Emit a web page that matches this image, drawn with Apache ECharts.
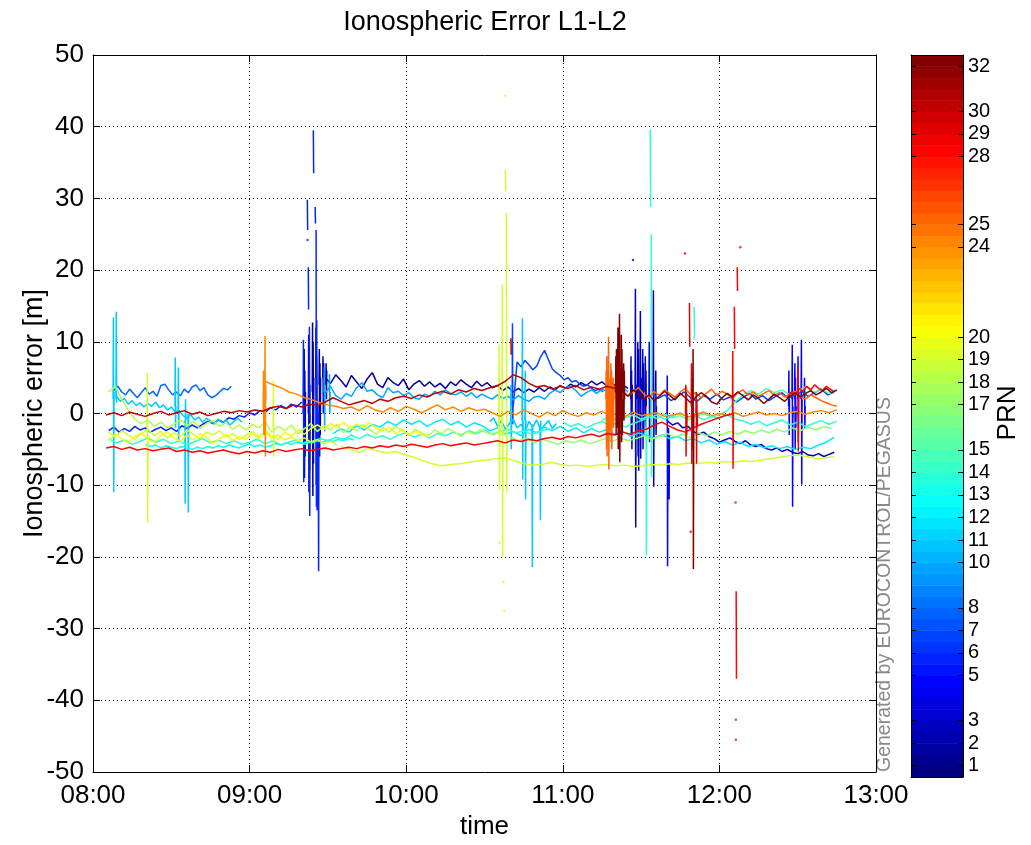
<!DOCTYPE html>
<html><head><meta charset="utf-8">
<script src="https://cdn.jsdelivr.net/npm/echarts@6/dist/echarts.min.js"></script>
<style>html,body{margin:0;padding:0;background:#fff}#c{width:1031px;height:845px}</style>
</head><body><div id="c"></div>
<script>
// ================= DATA =================
const hourLabels = ['08:00','09:00','10:00','11:00','12:00','13:00'];
const prnTicks = [1,2,3,5,6,7,8,10,11,12,13,14,15,17,18,19,20,24,25,28,29,30,32];

// track table: [name, PRN, start (minutes after 08:00), sample step (minutes)]
const trackInfo = [
  ['P02a', 2, 89, 2],
  ['P03a', 3, 220, 2],
  ['P06a', 6, 6, 2],
  ['P07a', 7, 161, 1.5],
  ['P07b', 7, 214, 2.5],
  ['P08a', 8, 8, 1.5],
  ['P10a', 10, 89, 2],
  ['P11a', 11, 9, 1.5],
  ['P11b', 11, 152, 1.5],
  ['P12a', 12, 92, 3],
  ['P13a', 13, 20, 2],
  ['P14a', 14, 6, 3],
  ['P14b', 14, 180, 3],
  ['P15a', 15, 195, 3],
  ['P17a', 17, 160, 3],
  ['P18a', 18, 6, 2.5],
  ['P19a', 19, 6, 2.5],
  ['P19b', 19, 95, 3.5],
  ['P20a', 20, 6, 2.5],
  ['P24a', 24, 66, 3],
  ['P25a', 25, 199, 2],
  ['P28a', 28, 5, 3],
  ['P28b', 28, 266, 1.5],
  ['P30a', 30, 5, 3],
  ['P32a', 32, 203, 2]
];

// ionospheric error samples [m]
const P02a = [5.0,4.2,5.4,4.6,3.7,5.3,4.4,3.5,4.8,5.7,4.1,3.6,5.0,4.3,3.9,4.8,3.3,4.1,4.6,3.8,4.4,3.7,4.2,3.5,4.4,3.9,4.7,4.1,3.6,4.5,3.8,4.3,3.6,3.9,3.2,3.7,3.0,3.5,2.9,3.4,3.0,3.6,3.1,3.7,3.3,3.9,3.5,4.1,3.7,4.3,3.9,4.5,4.0,4.4,3.8,4.2,3.6,4.0,3.5];
const P03a = [-1.0,-1.6,-1.3,-2.0,-1.8,-2.5,-2.9,-2.6,-3.2,-3.5,-4.0,-3.7,-3.4,-3.9,-4.2,-3.8,-4.4,-4.6,-4.3,-4.9,-5.1,-4.8,-5.3,-5.0,-5.4,-5.6,-5.3,-5.8,-5.9,-5.6,-6.0,-5.7,-5.4];
const P06a = [-2.4,-1.9,-2.6,-2.1,-2.5,-1.8,-2.3,-2.0,-2.6,-2.2,-1.9,-2.4,-2.0,-2.5,-1.7,-2.1,-1.6,-2.0,-1.5,-1.1,-1.4,-0.9,-1.2,-0.6,-0.8,-0.3,-0.5,0.1,-0.2,0.4,0.2,0.8,0.5,1.1,0.7,1.3,0.9,1.6];
const P07a = [1.0,7.2,6.5,7.4,6.8,6.1,6.6,7.9,8.8,7.5,6.2,5.7,5.3,4.7,5.0,4.4,4.6,4.1,3.8,4.0,3.5,3.2,3.4,3.0];
const P07b = [2.8,2.1,2.6,1.8,2.4,3.0,2.2,1.7,2.5,2.0,2.7,1.9,2.3,1.6,2.2,2.8,2.0,2.5,1.8,2.4,2.9,2.1,2.6,3.1,2.4,2.9,3.4,2.6,3.0];
const P08a = [3.2,3.8,3.0,2.6,3.4,2.8,2.2,2.9,3.6,2.7,3.1,2.4,3.9,4.1,3.3,2.6,3.0,2.5,3.4,2.9,3.7,4.0,3.2,3.6,2.6,2.2,2.5,3.0,3.5,3.3,3.8];
const P10a = [2.9,3.8,2.5,2.0,2.8,2.4,3.6,4.3,3.1,3.3,2.6,2.2,3.6,2.9,3.1,2.5,2.9,2.2,2.0,2.7,2.4,3.1,2.6,3.3,2.8,2.6,3.0,2.4,2.9,2.2,2.7,2.3,2.0,2.6,2.1,2.4,1.9,2.5,2.0,1.7,2.3,2.4,2.0,2.8,3.3,2.9,3.6,3.8,3.2,2.4,2.9,3.3,2.8,3.4,3.1,3.8,3.3,3.6,3.0];
const P11a = [2.4,1.7,2.1,1.3,1.8,1.1,1.5,0.9,1.4,1.0,1.6,0.8,1.2,0.5,0.9,0.2,0.4,-0.3,-0.6,-0.2,-0.9,-0.5,-1.2,-0.7,-1.0,-1.5,-0.8,-1.3,-0.9,-1.6,-1.1,-0.7,-1.2];
const P11b = [-1.2,-0.6,-1.8,-1.0,-2.2,-1.4,-0.8,-2.0,-1.5,-2.6,-1.1,-1.9,-0.9,-2.3,-1.6,-1.0,-2.1,-1.4];
const P12a = [-2.8,-2.1,-2.6,-1.7,-2.3,-1.5,-1.9,-1.1,-1.7,-0.9,-1.5,-1.0,-1.8,-1.2,-0.8,-1.6,-1.1,-1.9,-1.3,-1.7,-2.4,-2.0,-2.9,-2.5,-3.1,-2.2,-2.7,-1.9,-2.4,-1.8,-2.5,-2.0,-2.7,-2.1,-2.6,-2.2,-2.9,-2.5,-3.2,-2.7,-3.0,-3.4,-3.0,-3.5,-3.2,-3.8,-3.5,-4.1,-3.7,-4.3,-3.9,-4.4,-4.0,-4.6,-4.3,-4.8,-4.5,-4.9,-4.6,-5.0,-4.7,-4.9,-4.4,-4.0,-3.3];
const P13a = [-4.3,-4.6,-4.4,-4.8,-4.5,-4.7,-4.9,-4.6,-4.8,-5.0,-4.7,-4.9,-4.6,-4.8,-4.5,-4.7,-4.4,-4.6,-4.8,-4.5,-4.3,-4.6,-4.4,-4.7,-4.5,-4.2,-4.4,-4.1,-4.3,-4.0,-4.2,-3.9,-4.1,-3.8,-4.0,-3.7,-3.9,-3.6,-3.8,-3.5,-3.7];
const P14a = [-3.5,-4.1,-3.7,-4.3,-3.9,-3.4,-4.0,-3.6,-4.2,-3.8,-4.4,-3.9,-3.5,-4.1,-3.7,-4.2,-3.8,-4.3,-4.0,-3.6,-4.2,-3.8,-4.4,-4.0,-3.7,-4.3,-3.9,-3.5,-3.8,-3.3,-3.6,-3.0,-3.5,-2.9,-3.4,-3.1,-3.6,-3.0,-2.7,-3.3,-2.9,-3.4,-2.8,-3.1,-2.6,-3.0,-2.4,-2.8,-2.3,-2.9,-2.5,-2.2,-2.7,-2.4,-2.9,-2.5,-2.2];
const P14b = [-1.2,-1.8,-1.4,-2.0,-1.5,-1.1,-1.7,-1.3,-1.9,-1.4,-1.0,-0.6,-0.2,-0.8,-0.4,0.1,-0.5,-0.3,-0.9,-0.4,-0.7,-0.2,-0.8,-1.0,-1.5,-1.1,-1.7,-1.3,-0.9,-1.6,-1.2,-1.8,-1.4,-1.0,-1.5,-1.1];
const P15a = [-0.9,-0.4,-1.0,-0.6,-0.2,-0.8,-0.3,-0.7,-0.1,-0.6,-0.3,-0.9,-0.4,0.0,-0.5,-0.2,0.4,1.6,2.6,3.2,2.7,3.5,2.9,3.3,2.6,3.1,3.7,2.9,3.4,2.8,3.2];
const P17a = [-3.3,-3.8,-3.5,-4.1,-3.6,-3.9,-4.3,-3.8,-4.1,-3.7,-4.2,-3.9,-3.5,-3.9,-3.4,-3.8,-3.5,-3.1,-3.6,-3.2,-2.8,-3.3,-2.9,-3.4,-2.7,-3.1,-2.6,-3.0,-2.5,-2.9,-2.4,-2.8,-2.3,-2.7,-2.2,-2.6,-2.0,-2.4,-1.9,-2.3,-1.8,-2.1];
const P18a = [3.0,3.8,2.0,0.5,-0.8,-1.4,-0.9,-1.8,-1.2,-2.0,-1.5,-0.9,-1.7,-1.1,-2.1,-1.4,-1.0,-1.8,-1.3,-2.2,-1.6,-2.3,-1.5,-2.0,-1.2,-2.6,-1.8,-2.4,-1.6,-2.8,-2.1,-1.4,-2.5,-1.7,-2.3,-1.5,-2.7,-1.9,-2.4,-1.6,-2.2,-2.9,-2.0,-2.6,-1.8,-2.4,-3.0,-2.2,-2.7,-3.1,-2.3,-2.8,-2.1,-2.6,-3.2,-2.5,-2.9,-2.2,-2.7,-3.0,-2.4,-2.8];
const P19a = [-2.6,-3.3,-2.4,-3.0,-3.6,-2.8,-2.2,-3.1,-2.5,-3.4,-2.7,-3.2,-2.3,-2.9,-3.5,-2.6,-3.0,-2.4,-3.3,-2.8,-3.6,-3.1,-2.5,-3.2,-2.7,-3.4,-3.0,-3.7,-3.3,-3.8,-3.4,-4.0,-3.6,-4.2,-3.9,-4.4];
const P19b = [-4.6,-5.0,-5.4,-4.9,-5.2,-5.5,-5.3,-5.8,-6.1,-6.6,-7.0,-7.3,-7.1,-7.0,-6.8,-6.6,-6.5,-6.3,-6.2,-6.6,-7.0,-7.2,-7.1,-6.8,-7.1,-7.3,-7.2,-7.4,-7.2,-7.1,-7.3,-7.2,-7.4,-7.3,-7.1,-7.2,-7.0,-7.1,-6.9,-7.0,-6.8,-6.9,-6.7,-6.8,-6.6,-6.7,-6.5,-6.3,-6.1,-5.9,-5.8,-6.0,-6.3,-6.2,-6.0];
const P20a = [-3.8,-2.9,-3.5,-4.1,-3.2,-2.7,-3.6,-4.0,-3.1,-2.6,-3.4,-3.9,-3.0,-3.7,-2.8,-3.3,-4.2,-3.5,-2.9,-3.8,-3.2,-3.6,-2.8,-3.5,-2.4,-3.1,-3.7,-2.6,-3.2,-2.3,-2.9,-2.1,-1.6,-2.2,-1.4,-1.9,-1.2,-2.0,-1.5,-1.8,-1.3,-2.1,-2.4,-1.9,-2.8,-2.2,-3.0,-2.5,-2.9,-3.2];
const P24a = [4.5,4.0,3.6,3.0,2.7,2.2,1.9,1.5,1.2,1.0,0.7,0.9,0.4,1.1,0.5,0.2,0.8,0.3,1.0,0.6,0.1,0.7,1.2,0.5,0.9,0.3,0.8,0.4,0.6,0.1,-0.4,0.3,-0.2,0.5,0.0,-0.5,0.2,-0.3,0.4,-0.1,-0.4,0.1,-0.2,0.3,-0.3,0.0,-0.4,0.2,-0.3,-0.1,0.1,-0.4,-0.2,0.0,-0.5,-0.1,0.2,-0.3,0.0,-0.2,0.1,-0.4,-0.1,0.2,-0.2,0.0,-0.3,0.1,0.3,-0.1,0.2,0.4,0.1,0.5];
const P25a = [3.5,2.6,3.2,2.4,3.0,3.6,2.7,2.2,3.1,2.5,3.3,2.8,2.3,3.0,3.5,2.6,2.9,2.2,2.8,3.4,2.5,3.1,2.7,2.1,2.9,3.3,2.6,3.0,2.4,2.8,3.2,2.5,2.9,2.3,2.7,3.1,2.4,2.0,2.6,2.2,1.8,1.5,1.2,1.0];
const P28a = [-4.8,-4.6,-5.0,-4.7,-5.1,-4.9,-5.2,-5.0,-4.8,-5.3,-5.1,-5.4,-5.2,-5.5,-5.3,-5.1,-5.4,-5.6,-5.3,-5.5,-5.2,-5.4,-5.0,-5.3,-5.1,-4.9,-5.2,-5.0,-4.8,-5.1,-4.9,-4.7,-4.9,-4.6,-4.8,-4.5,-4.7,-4.4,-4.6,-4.3,-4.5,-4.7,-4.4,-4.2,-4.5,-4.3,-4.1,-4.4,-4.2,-4.0,-3.8,-4.1,-3.7,-3.9,-3.6,-3.8,-3.5,-3.3,-3.6,-3.2,-3.4,-3.1,-2.9,-3.2,-2.8,-3.0,-2.6,-2.9,-2.4,-2.2,-1.6,-1.2,-1.8,-2.3,-2.6,-2.0,-1.5,-1.1,-0.7,-0.3,-0.1];
const P28b = [2.2,3.0,2.6,3.5,3.1,3.8,3.3,4.0,3.5,3.2,3.8,3.4,3.0];
const P30a = [-0.2,0.1,-0.3,0.2,-0.1,-0.4,0.0,0.3,-0.2,0.1,0.4,-0.1,0.2,-0.3,0.0,0.3,0.1,0.4,0.2,0.5,0.3,0.8,1.0,0.7,1.2,0.9,1.3,1.1,1.6,2.2,1.7,1.2,1.5,1.8,1.4,2.0,1.7,2.2,2.4,2.1,2.6,2.3,2.8,3.1,2.7,3.3,3.0,3.5,3.2,3.6,3.9,4.5,5.4,5.0,4.2,3.7,3.9,3.4,3.8,3.5,3.9,3.3,3.7,3.4,3.8,3.5];
const P32a = [3.0,2.4,3.3,2.7,2.0,2.6,1.8,2.4,3.1,2.5,1.9,2.8,2.2,1.5,2.3,2.9,2.4,1.6,1.3,2.2,2.8,2.3,3.0,2.5,1.9,2.6,2.1,1.4,2.0,2.7,2.2,1.7,2.4,2.9,2.3,2.8,3.2,2.6,3.0,3.5,2.9,3.3];

// outlier bursts: [time (min after 08:00), successive values...]; null = gap
const b02 = [[80.8,2,9,-9,6,-6,3],[82.5,0,11,-11,8,-8,4],[84,3,12.7,-11.5,10,-7,5],[85.3,5,12,-10,8,2],[86.6,4,9,-6,7,-3,5],[88,5,8,0,7,3],[89.2,4,7,2,6]];
const b03 = [[206,2,8,-3,6,-5,4],[207.7,3,17.4,-15.9,4],[208.6,2,10,-6,9,-8,3],[209.6,3,14.3,-6.3,5],[210.5,2,9,-5,7,-3,2],[211.5,3,8,-2,6,1],[213,2,10,-4,2],[214.6,3,17.2,-10.2,2],[215.5,2,6,-3,1]];
const b05 = [[219.9,-1,5.3,-21.3,-3,-8,-2],[220.5,-2,-6,-12,-3],[266.5,1,6,-3,2],[267.8,2,9.6,-13,1],[268.8,2,7,-5,5,-2,1],[270,2,8,-4,3],[271.3,2,10.3,-9.9,2],[272.5,2,5,-2,1]];
const b06 = [[80.5,0,10.3,-9.6,1],[82.0,null,29.8,25.6,null,20.4,14.5,null],[82.8,2,12.1,-14.3,0],[84.3,null,39.5,33.5,null],[85.0,null,28.8,26.5,null,25.6,-13,2],[85.6,3,13,-13.5,2],[86.2,1,-3,-22,0]];
const b07 = [[160.6,1,12.6,-1.5,2]];
const b10 = [[88.5,3,6.5,-2.5,3],[90.5,3,5.5,0,3]];
const b11 = [[7.7,2,13.4,-11,3],[8.8,2,14.2,1.5],[31.4,1,7.8,-2,1],[32.6,0,6.4,-4,0.5],[35.2,-1,-12.6,2,-1],[36.4,0,-13.8,0],[160,-1,4,-5,-1],[164.4,-1,13.3,-9.2,-1],[165.5,-1,6,-12,-1],[168.2,-1.5,-21.4,-2],[171.3,-1.5,-14.9,-1]];
const b14 = [[211.9,-1,-19.8,-2],[213.4,null,39.6,28.8,null,25,-8.9,-1],[230.2,null,14.9,10.3,null]];
const b19 = [[20.7,-2,5.7,-15.2,-3],[69,-2,4.5,-6,-3],[155.5,-3,9.6,-10.6,-2],[156.7,-2,18,-20,-4],[157.9,null,34,31,null,28,-11,-3]];
const b24 = [[65.2,0.5,6,-3,1],[65.8,1,10.8,-6,4,2]];
const b25 = [[196.5,2,6,-5,8,-6,3],[197.4,1,10.7,-7.8,5,-3,2],[198.3,2,7,-4,6,-5,3],[199.2,2,5,-2,4,2]];
const b28 = [[245,0,8.7,-7.7,0],[245.6,null,14.9,9,null],[246.7,null,20.4,17.1,null],[246.3,null,-24.8,-37,null],[270,3,6.5,-5.3,3]];
const b29 = [[227,0,4,-6,3,-3,0],[228.4,null,15.4,9.3,null],[229.2,1,7,-7,5,-5,0],[231,0,3,-7,2,-2,0]];
const b30 = [[160,null,10.5,8.2,null]];
const b32 = [[200.2,3,8,-3,9,-2,3],[201,2,12,-5,10,-4,3],[201.6,3,13.9,-6.8,3],[202.3,2,11,-4,9,-3,2],[203.2,3,7,-1,6,2],[229.8,1,9,-21.7,0]];
const burstInfo = [[2,b02],[3,b03],[5,b05],[6,b06],[7,b07],[10,b10],[11,b11],[14,b14],[19,b19],[24,b24],[25,b25],[28,b28],[29,b29],[30,b30],[32,b32]];

// isolated samples: [PRN, time, value]
const dots = [[28,248,23.2],[28,246.2,-12.4],[28,246.3,-42.7],[28,246.3,-45.5],[19,158.0,44.3],[19,157.6,-27.5],[19,157.2,-23.5],[19,155.8,-18],[5,206.9,21.4],[29,226.8,22.3],[29,229,-16.5],[6,82.2,24.2]];

// ================= RENDER =================
const trackVals = {P02a,P03a,P06a,P07a,P07b,P08a,P10a,P11a,P11b,P12a,P13a,P14a,P14b,P15a,P17a,P18a,P19a,P19b,P20a,P24a,P25a,P28a,P28b,P30a,P32a};
const FONT = 'Liberation Sans';
function clamp(x){return Math.max(0,Math.min(1,x));}
function jet(t){
  const r = clamp(Math.min(4*t-1.5, -4*t+4.5));
  const g = clamp(Math.min(4*t-0.5, -4*t+3.5));
  const b = clamp(Math.min(4*t+0.5, -4*t+2.5));
  return 'rgb('+Math.round(r*255)+','+Math.round(g*255)+','+Math.round(b*255)+')';
}
function prnColor(p){return jet((p-1)/31);}

const series = [];
const items = [];
trackInfo.forEach(([name,prn,t0,dt])=>{
  items.push({prn, kind:'track', data: trackVals[name].map((v,i)=>[t0+i*dt, v])});
});
burstInfo.forEach(([prn,list])=>{
  const pts=[];
  list.forEach(b=>{
    const t=b[0];
    for(let i=1;i<b.length;i++) pts.push([t+(i-1)*0.12, b[i]]);
    pts.push([t, null]);
  });
  items.push({prn, kind:'burst', data: pts});
});
items.sort((a,b)=>a.prn-b.prn);
items.forEach((it)=>{
  series.push({
    type:'line', xAxisIndex:0, yAxisIndex:0, data: it.data, showSymbol:false, symbol:'none',
    connectNulls:false, silent:true, animation:false, z: 2,
    lineStyle:{color: prnColor(it.prn), width:1.5},
    clip:true
  });
});
series.push({
  type:'scatter', xAxisIndex:0, yAxisIndex:0, symbolSize:2.5, silent:true, animation:false,
  data: dots.map(d=>({value:[d[1],d[2]], itemStyle:{color: prnColor(d[0])}}))
});
const bands = []; for(let i=0;i<64;i++) bands.push([0.5, i]);
series.push({
  type:'custom', xAxisIndex:2, yAxisIndex:2, silent:true, animation:false, z:1,
  data: bands,
  renderItem: function(params, api){
    const i = api.value(1);
    const y0 = 0.5 + i*0.5, y1 = y0 + 0.5;
    const p0 = api.coord([0, y1]);
    const p1 = api.coord([1, y0]);
    return {type:'rect', shape:{x:p0[0], y:p0[1], width:p1[0]-p0[0], height:p1[1]-p0[1]+0.5},
            style:{fill: jet(i/63)}};
  }
});

const axisTxt = {color:'#000', fontFamily:FONT, fontSize:26};
const nameTxt = {color:'#000', fontFamily:FONT, fontSize:27};
const dotted = {show:true, lineStyle:{color:'#000', type:[1,3], width:1}};
const option = {
  backgroundColor:'#fff',
  animation:false,
  grid:[
    {left:93, top:55, width:783, height:719},
    {left:911, top:55, width:52, height:722}
  ],
  xAxis:[
    {gridIndex:0, type:'value', min:0, max:300, interval:60, position:'bottom',
     axisLine:{show:true, onZero:false, lineStyle:{color:'#000', width:1}},
     axisTick:{show:true, inside:true, length:7, lineStyle:{color:'#000'}},
     axisLabel:Object.assign({margin:11, formatter:v=>hourLabels[Math.round(v/60)]}, axisTxt),
     splitLine:dotted,
     name:'time', nameLocation:'middle', nameGap:42, nameTextStyle:axisTxt},
    {gridIndex:0, type:'value', min:0, max:300, interval:60, position:'top',
     axisLine:{show:true, onZero:false, lineStyle:{color:'#000', width:1}},
     axisTick:{show:true, inside:true, length:7, lineStyle:{color:'#000'}},
     axisLabel:{show:false}, splitLine:{show:false}},
    {gridIndex:1, type:'value', min:0, max:1, position:'bottom', z:5,
     axisLine:{show:true, onZero:false, lineStyle:{color:'#000'}}, axisTick:{show:false}, axisLabel:{show:false}, splitLine:{show:false}},
    {gridIndex:1, type:'value', min:0, max:1, position:'top', z:5,
     axisLine:{show:true, onZero:false, lineStyle:{color:'#000'}}, axisTick:{show:false}, axisLabel:{show:false}, splitLine:{show:false}}
  ],
  yAxis:[
    {gridIndex:0, type:'value', min:-50, max:50, interval:10, position:'left',
     axisLine:{show:true, onZero:false, lineStyle:{color:'#000', width:1}},
     axisTick:{show:true, inside:true, length:7, lineStyle:{color:'#000'}},
     axisLabel:Object.assign({margin:9}, axisTxt),
     splitLine:dotted,
     name:'Ionospheric error [m]', nameLocation:'middle', nameGap:45, nameMoveOverlap:false, nameRotate:90, nameTextStyle:nameTxt},
    {gridIndex:0, type:'value', min:-50, max:50, interval:10, position:'right',
     axisLine:{show:true, onZero:false, lineStyle:{color:'#000', width:1}},
     axisTick:{show:true, inside:true, length:7, lineStyle:{color:'#000'}},
     axisLabel:{show:false}, splitLine:{show:false}},
    {gridIndex:1, type:'value', min:0.5, max:32.5, position:'right', z:5,
     axisLine:{show:true, onZero:false, lineStyle:{color:'#000'}},
     axisTick:{show:true, inside:true, length:5, customValues:prnTicks, lineStyle:{color:'#000'}},
     axisLabel:{show:true, customValues:prnTicks, margin:5, color:'#000', fontFamily:FONT, fontSize:20},
     splitLine:{show:false}},
    {gridIndex:1, type:'value', min:0.5, max:32.5, position:'left', z:5,
     axisLine:{show:true, onZero:false, lineStyle:{color:'#000'}},
     axisTick:{show:true, inside:true, length:5, customValues:prnTicks, lineStyle:{color:'#000'}},
     axisLabel:{show:false}, splitLine:{show:false}}
  ],
  graphic:[
    {type:'text', x:485, y:23, style:{text:'Ionospheric Error L1-L2', fontFamily:FONT, fontSize:27, fill:'#000', align:'center', verticalAlign:'middle'}},
    {type:'text', x:1008, y:413, rotation:Math.PI/2, style:{text:'PRN', fontFamily:FONT, fontSize:26, fill:'#000', align:'center', verticalAlign:'middle'}},
    {type:'text', x:885, y:772, rotation:Math.PI/2, style:{text:'Generated by EUROCONTROL/PEGASUS', fontFamily:FONT, fontSize:19.5, fill:'#8a8a8a', align:'left', verticalAlign:'middle'}}
  ],
  series: series
};
const chart = echarts.init(document.getElementById('c'), null, {renderer:'canvas'});
chart.setOption(option);
</script>
</body></html>
